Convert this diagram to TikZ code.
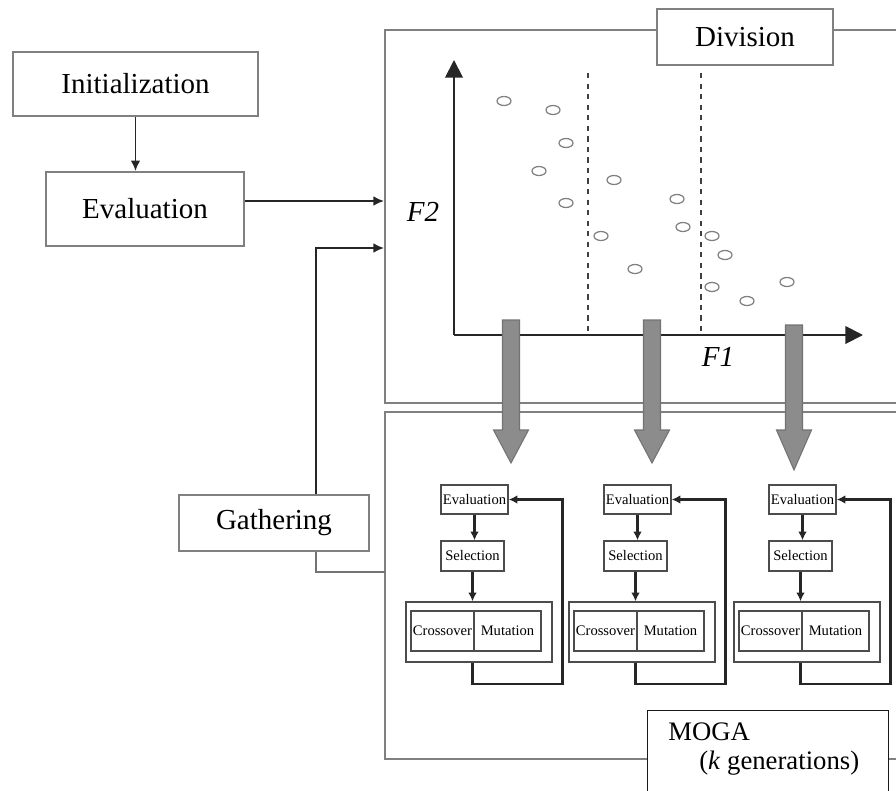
\documentclass[tikz,border=0pt]{standalone}
\usepackage{fontspec}
\setmainfont{Liberation Serif}
\usetikzlibrary{arrows.meta}

\begin{document}
\begin{tikzpicture}[x=0.02cm,y=-0.02cm,
  font=\fontsize{16.5}{20}\selectfont,
  frame/.style={draw=black!50,line width=1pt},
  box/.style={draw=black!50,line width=1.1pt,fill=white,inner sep=0pt},
  link/.style={draw=black!85,line width=1pt,-{Latex[length=6pt,width=5.5pt]}},
  plain/.style={draw=black!55,line width=0.9pt},
  axis/.style={draw=black!85,line width=1.1pt,-{Triangle[length=10pt,width=10pt]}},
  mini/.style={draw=black!70,line width=0.8pt,fill=white,inner sep=0pt,font=\fontsize{8.3}{10}\selectfont},
  minilink/.style={draw=black!85,line width=1.3pt,-{Latex[length=5pt,width=5pt]}},
  dot/.style={draw=black!50,line width=0.7pt},
  fat/.style={fill=black!45,draw=black!55,line width=0.6pt}]
\useasboundingbox (0,0) rectangle (896,791);

\draw[frame] (896,30) -- (385,30) -- (385,403) -- (896,403);
\draw[frame] (896,412) -- (385,412) -- (385,759) -- (896,759);

\node[box,minimum width=4.9cm,minimum height=1.28cm] (init) at (135.5,84) {Initialization};
\node[box,minimum width=3.96cm,minimum height=1.48cm] (eval) at (145,209) {Evaluation};
\node[box,minimum width=3.52cm,minimum height=1.12cm] (div) at (745,37) {Division};
\node[box,minimum width=3.8cm,minimum height=1.12cm] (gath) at (274,523) {Gathering};
\node[box,draw=black!90,line width=0.8pt,minimum width=4.82cm,minimum height=2cm,anchor=north west] (moga) at (647,710) {};
\node[anchor=north west,align=left,inner sep=0pt,font=\fontsize{15.2}{17}\selectfont] (mogatext) at (668,722)
  {MOGA\\\hspace*{0.62cm}(\textit{k} generations)};

\coordinate (in1) at (384,201);
\coordinate (in2) at (384,248);
\coordinate (out) at (385,572);
\coordinate (gx) at (316,572);
\draw[link] (init.south) -- (init.south |- eval.north);
\draw[link] (eval.east |- in1) -- (in1);
\draw[plain] (out) -| (gath.south -| gx);
\draw[link] (gath.north -| gx) |- (in2);

% objective space
\coordinate (o) at (454,335);
\coordinate (ytip) at (454,60);
\coordinate (xtip) at (863,335);
\draw[axis] (o) -- (ytip);
\draw[axis] (o) -- (xtip);
\node (f2) at (423,212) {\textit{F2}};
\node (f1) at (718,357) {\textit{F1}};
\draw[dashed,black!75,line width=0.7pt] (588,73) -- (588,335);
\draw[dashed,black!75,line width=0.7pt] (701,73) -- (701,335);
\foreach \px/\py in {504/101,553/110,566/143,539/171,566/203,614/180,601/236,635/269,
  677/199,683/227,712/236,725/255,712/287,747/301,787/282}
  \draw[dot] (\px,\py) ellipse [x radius=0.14cm,y radius=0.09cm];

\foreach \ax/\ay/\ty in {511/320/463,652/320/463,794/325/470}
  \draw[fat] (\ax-8.5,\ay) -- (\ax+8.5,\ay) -- (\ax+8.5,430) -- (\ax+17.5,430)
    -- (\ax,\ty) -- (\ax-17.5,430) -- (\ax-8.5,430) -- cycle;

% one MOGA per region
\foreach \c/\x in {1/441,2/604,3/769} {
  \node[mini,minimum width=1.34cm,minimum height=0.58cm] (ev\c) at (\x+33.5,499.5) {Evaluation};
  \node[mini,minimum width=1.26cm,minimum height=0.6cm] (sel\c) at (\x+31.5,556) {Selection};
  \node[mini,minimum width=2.92cm,minimum height=1.2cm] (op\c) at (\x+38,632) {};
  \node[mini,minimum width=1.26cm,minimum height=0.8cm] (co\c) at (\x+1.5,631) {Crossover};
  \node[mini,minimum width=1.34cm,minimum height=0.8cm] (mu\c) at (\x+66.5,631) {Mutation};
  \draw[minilink] (ev\c.south) -- (ev\c.south |- sel\c.north);
  \draw[minilink] (sel\c.south) -- (sel\c.south |- op\c.north);
  \draw[minilink] (op\c.south -| sel\c.south) |- ++(90,21) |- (ev\c.east);
}
\end{tikzpicture}
\end{document}
